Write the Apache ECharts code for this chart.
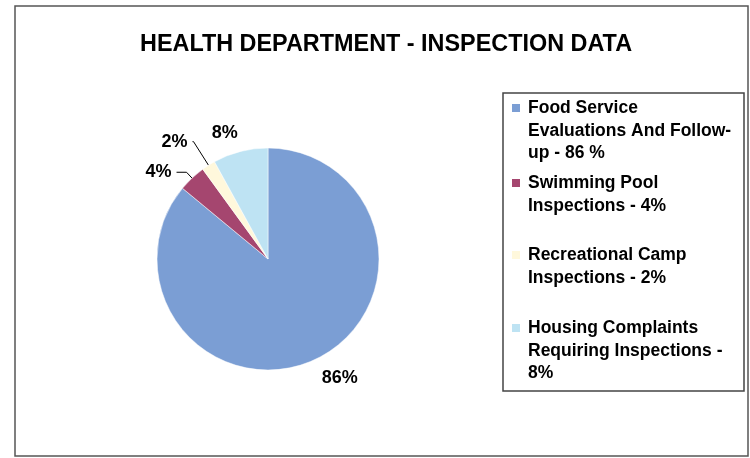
<!DOCTYPE html>
<html><head><meta charset="utf-8">
<script src="https://cdn.jsdelivr.net/npm/echarts@6/dist/echarts.min.js"></script>
<style>html,body{margin:0;padding:0;background:#fff}#c{width:750px;height:458px}</style>
</head><body><div id="c"></div>
<script>
const titleText = 'HEALTH DEPARTMENT - INSPECTION DATA';
const categories = [
  'Food Service Evaluations And Follow-up',
  'Swimming Pool Inspections',
  'Recreational Camp Inspections',
  'Housing Complaints Requiring Inspections'
];
const values = [86, 4, 2, 8];
const legendLines = [
  ['Food Service', 'Evaluations And Follow-', 'up - 86 %'],
  ['Swimming Pool', 'Inspections - 4%'],
  ['Recreational Camp', 'Inspections - 2%'],
  ['Housing Complaints', 'Requiring Inspections -', '8%']
];

const FONT = "'Liberation Sans', Arial, sans-serif";
const colors = ['#7B9ED4', '#A5466F', '#FFF8DC', '#BEE3F3'];
const labelCfg = [
  {show: false, len: 20, len2: -7},
  {show: true, len: 8, len2: 10},
  {show: true, len: 28, len2: 1},
  {show: false, len: 19, len2: -7}
];
const legendTops = [99, 174, 246, 319];

const chart = echarts.init(document.getElementById('c'), null, {renderer: 'canvas'});

const legends = categories.map((name, i) => ({
  data: [name],
  left: 506,
  top: legendTops[i],
  orient: 'vertical',
  padding: 0,
  itemWidth: 0,
  itemHeight: 0,
  selectedMode: false,
  formatter: n => {
    const k = categories.indexOf(n);
    return legendLines[k].map((l, j) => (j === 0 ? '{sq|}{gap|}' : '{ind|}') + '{t|' + l + '}').join('\n');
  },
  textStyle: {
    rich: {
      sq: {width: 8, height: 8, backgroundColor: colors[i]},
      gap: {width: 8},
      ind: {width: 16},
      t: {fontFamily: FONT, fontSize: 17.5, fontWeight: 'bold', color: '#000', lineHeight: 22.7}
    }
  }
}));

chart.setOption({
  animation: false,
  backgroundColor: '#fff',
  title: {
    text: titleText,
    left: 140,
    top: 33,
    padding: 0,
    textStyle: {fontFamily: FONT, fontSize: 23.4, fontWeight: 'bold', color: '#000'}
  },
  legend: legends,
  graphic: [
    {type: 'rect', shape: {x: 15, y: 6, width: 733, height: 450}, style: {fill: 'none', stroke: '#555', lineWidth: 1.5}, z: 0},
    {type: 'rect', shape: {x: 503, y: 93, width: 241, height: 298}, style: {fill: 'none', stroke: '#444', lineWidth: 1.5}, z: 0}
  ],
  series: [{
    type: 'pie',
    center: [268, 259],
    radius: 111,
    startAngle: 90,
    clockwise: true,
    avoidLabelOverlap: false,
    emphasis: {disabled: true},
    itemStyle: {borderColor: '#fff', borderWidth: 0.5},
    label: {
      show: true,
      position: 'outside',
      formatter: p => p.value + '%',
      fontFamily: FONT,
      fontSize: 18,
      fontWeight: 'bold',
      color: '#000'
    },
    labelLine: {lineStyle: {color: '#000', width: 1}, smooth: false},
    data: categories.map((n, i) => ({
      name: n,
      value: values[i],
      itemStyle: {color: colors[i]},
      labelLine: {show: labelCfg[i].show, length: labelCfg[i].len, length2: labelCfg[i].len2}
    }))
  }]
});
</script>
</body></html>
